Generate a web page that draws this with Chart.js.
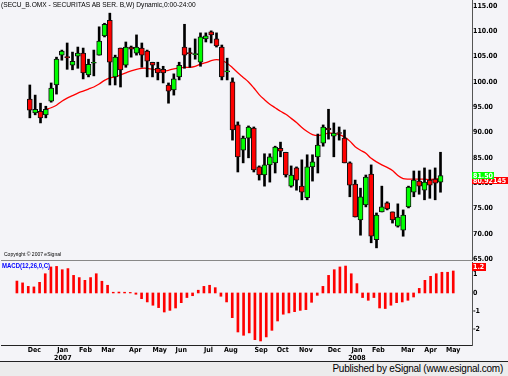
<!DOCTYPE html>
<html>
<head>
<meta charset="utf-8">
<script src="https://cdn.jsdelivr.net/npm/chart.js@4.4.1/dist/chart.umd.min.js"></script>
<style>
  body { margin: 0; background: #fff; }
  #wrap { position: relative; width: 508px; height: 376px; background: #F4F4F8; overflow: hidden;
          font-family: 'Liberation Sans', Arial, sans-serif; }
  canvas { position: absolute; left: 0; }
  #priceCanvas { top: 0; }
  #macdCanvas { top: 261px; }
  .lbl { position: absolute; white-space: nowrap; transform-origin: 0 50%; }
  #title { left: 1px; top: 0px; font-size: 8px; line-height: 10px; color: #000; transform: scaleX(0.83); }
  #copy { left: 4px; top: 251px; font-size: 5px; line-height: 6px; color: #000; }
  #macdLbl { left: 2px; top: 261px; font-size: 8px; line-height: 9px; font-weight: bold; color: #0000FF; transform: scaleX(0.75); }
  #footer { position: absolute; left: 0; top: 361px; width: 508px; height: 15px; background: #ECECEC;
            border-top: 1px solid #222; box-sizing: border-box; }
  #footer span { position: absolute; right: 5px; top: 0px; font-size: 10px; line-height: 13px; letter-spacing: -0.25px; color: #000; }
</style>
</head>
<body>
<div id="wrap">
  <canvas id="priceCanvas" width="508" height="272"></canvas>
  <canvas id="macdCanvas" width="508" height="101"></canvas>
  <div id="title" class="lbl">(SECU_B.OMX - SECURITAS AB SER. B,W) Dynamic,0:00-24:00</div>
  <div id="copy" class="lbl">Copyright © 2007 eSignal</div>
  <div id="macdLbl" class="lbl">MACD(12,26,0,C)</div>
  <div id="footer"><span>Published by eSignal (www.esignal.com)</span></div>
</div>
<script>
// weekly bars, Nov 2006 - May 2008
const opens  = [96.6, 93.9, 94.2, 93.5, 96.2, 99.4, 105.3, 105.0, 103.3, 105.1,
                105.7, 101.4, 103.7, 105.3, 109.1, 112.2, 101.0, 106.7, 103.3, 106.9,
                105.7, 106.7, 106.1, 103.9, 102.7, 102.5, 99.4, 98.4, 101.0, 106.9,
                105.8, 105.4, 103.9, 108.5, 109.9, 108.5, 106.9, 102.0, 100.0, 91.5,
                86.5, 88.9, 90.9, 83.2, 81.6, 83.6, 84.0, 86.9, 86.1, 79.4,
                83.0, 79.4, 77.1, 83.2, 85.2, 87.9, 90.9, 89.3, 90.0, 88.9,
                84.0, 79.8, 72.7, 75.7, 81.8, 68.8, 74.3, 76.1, 74.3, 71.5,
                70.7, 75.3, 78.2, 80.4, 78.6, 80.6, 80.8, 80.2];
const highs  = [99.4, 97.4, 95.8, 95.2, 99.8, 104.9, 106.3, 107.7, 105.9, 106.9,
                106.7, 104.5, 106.3, 110.9, 111.6, 113.6, 105.3, 106.7, 107.9, 107.1,
                109.3, 107.7, 106.3, 103.9, 103.9, 103.1, 99.8, 101.6, 103.9, 111.4,
                106.7, 108.5, 109.7, 109.7, 110.1, 109.7, 107.3, 104.7, 100.8, 92.1,
                89.3, 91.3, 91.1, 83.4, 85.8, 85.8, 87.3, 88.1, 86.1, 83.4,
                83.2, 84.6, 85.6, 85.6, 89.7, 91.5, 94.6, 91.9, 91.1, 90.5,
                84.2, 80.6, 79.0, 81.6, 83.6, 74.1, 79.4, 76.3, 74.3, 75.9,
                74.7, 79.4, 82.4, 82.4, 83.0, 82.6, 83.0, 86.1];
const lows   = [92.9, 93.5, 91.9, 92.9, 96.0, 97.6, 104.3, 102.5, 102.4, 102.7,
                100.6, 101.0, 101.2, 105.3, 108.9, 99.4, 99.4, 99.0, 102.9, 104.9,
                105.3, 102.9, 101.0, 101.0, 100.4, 99.8, 95.8, 97.4, 100.4, 102.7,
                102.9, 104.5, 103.1, 107.9, 107.7, 106.9, 100.4, 100.4, 88.5, 82.2,
                84.0, 85.0, 82.2, 80.6, 79.4, 80.2, 82.0, 85.2, 81.2, 79.2,
                78.6, 76.7, 76.7, 80.4, 82.0, 87.3, 88.7, 85.2, 88.5, 84.0,
                77.3, 73.3, 69.7, 75.3, 68.2, 67.2, 74.3, 74.7, 72.1, 71.3,
                69.5, 75.1, 77.3, 77.8, 76.7, 77.0, 76.7, 78.2];
const closes = [94.4, 94.6, 92.9, 94.6, 98.8, 104.5, 106.1, 104.8, 104.1, 105.7,
                101.8, 103.5, 103.9, 108.1, 111.4, 103.9, 104.9, 102.4, 106.9, 106.5,
                106.9, 105.3, 104.1, 103.3, 101.8, 101.8, 98.2, 100.6, 103.3, 105.3,
                105.6, 105.6, 108.9, 109.1, 109.3, 107.1, 101.0, 102.2, 90.5, 85.2,
                88.9, 91.1, 82.6, 81.6, 83.6, 85.2, 87.1, 86.3, 81.6, 81.6,
                80.6, 78.2, 83.2, 84.2, 87.5, 91.1, 90.5, 89.9, 89.8, 84.0,
                79.6, 73.3, 77.3, 81.2, 69.5, 73.7, 75.3, 74.9, 72.7, 73.3,
                73.7, 79.2, 80.6, 79.4, 80.2, 79.6, 80.0, 81.5];
const movAvg = [null, null, null, 94.6, 94.9, 95.4, 96.2, 96.8, 97.3, 97.8,
                98.2, 98.6, 99.0, 99.6, 100.3, 100.8, 101.0, 101.4, 101.8, 102.2,
                102.5, 102.7, 102.7, 102.5, 102.4, 102.2, 102.3, 102.6, 102.8, 102.9,
                102.9, 103.1, 103.5, 103.8, 104.2, 104.4, 104.2, 103.7, 102.8, 101.8,
                100.9, 100.0, 98.8, 97.5, 96.5, 95.6, 94.9, 94.2, 93.6, 92.8,
                92.0, 91.0, 90.2, 89.6, 89.4, 89.6, 89.9, 89.8, 89.6, 89.1,
                88.3, 87.2, 86.5, 85.9, 84.9, 84.2, 83.6, 83.1, 82.5, 81.5,
                80.9, 80.8, 80.8, 80.8, 80.8, 80.7, 80.8, 80.92145];
const macd   = [0.65, 0.55, 0.36, 0.33, 0.58, 1.05, 1.42, 1.45, 1.27, 1.33,
                0.96, 0.84, 0.69, 0.84, 1.05, 0.64, 0.42, 0.04, 0.05, 0.04,
                0.03, -0.07, -0.31, -0.49, -0.67, -0.80, -1.04, -0.95, -0.82, -0.53,
                -0.25, -0.15, 0.15, 0.36, 0.42, 0.29, -0.18, -0.49, -1.35, -2.13,
                -2.31, -2.18, -2.55, -2.62, -2.40, -2.04, -1.53, -1.16, -1.09, -1.02,
                -0.95, -0.91, -0.51, -0.13, 0.36, 0.96, 1.27, 1.42, 1.47, 1.05,
                0.51, -0.25, -0.40, -0.25, -0.82, -0.85, -0.67, -0.53, -0.49, -0.40,
                -0.22, 0.25, 0.69, 0.91, 1.05, 1.13, 1.13, 1.20];

const monthLabels = ['Dec', ['Jan', '2007'], 'Feb', 'Mar', 'Apr', 'May', 'Jun', 'Jul', 'Aug',
                     'Sep', 'Oct', 'Nov', 'Dec', ['Jan', '2008'], 'Feb', 'Mar', 'Apr', 'May'];
const monthPos    = [3.1, 8.1, 12.1, 16.1, 20.9, 25.2, 29.0, 33.8, 37.75,
                     43.1, 46.9, 51.0, 56.0, 60.0, 63.8, 69.0, 73.0, 77.0];
const priceTicks  = [65, 70, 75, 80, 85, 90, 95, 100, 105, 110, 115];
const macdTicks   = [-2, -1, 0, 1];

const fontStack = "'Liberation Sans Narrow', 'DejaVu Sans Condensed', 'Liberation Sans', Arial, sans-serif";
const axisFont = { family: fontStack, size: 7, weight: 'bold' };
const upColor = '#00FF00';
const downColor = '#FF0000';

const wickData = lows.map((l, i) => ({ x: i, y: [l, highs[i]] }));
const bodyData = opens.map((o, i) => ({ x: i, y: [o, closes[i]] }));
const maData = movAvg.map((v, i) => ({ x: i, y: v }));
const macdData = macd.map((v, i) => ({ x: i, y: v }));

// fixed width for the right axis, and no label padding pushing the plot in
function fixY(scale) {
  scale.width = 36;
  scale.paddingTop = 0;
  scale.paddingBottom = 0;
}

function drawTag(ctx, x, yc, w, h, bg, text) {
  const top = Math.round(yc - h / 2);
  ctx.font = "bold 7px " + fontStack;
  const tw = Math.ceil(ctx.measureText(text).width) + 2;
  ctx.fillStyle = bg;
  ctx.fillRect(x, top, Math.max(w, tw), h);
  ctx.fillStyle = '#fff';
  ctx.textBaseline = 'middle';
  ctx.textAlign = 'left';
  ctx.fillText(text, x + 1, top + h / 2 + 0.5);
}

const priceTags = {
  id: 'priceTags',
  afterDraw(chart) {
    const { ctx, chartArea } = chart;
    const y = chart.scales.y;
    const last = closes.length - 1;
    const yClose = y.getPixelForValue(closes[last]);
    const yMa = Math.max(y.getPixelForValue(movAvg[last]), yClose + 5);
    ctx.save();
    drawTag(ctx, chartArea.right, yMa, 36, 7, downColor, movAvg[last].toFixed(5));
    drawTag(ctx, chartArea.right, yClose, 17, 7, upColor, closes[last].toFixed(2));
    ctx.restore();
  }
};

const macdTag = {
  id: 'macdTag',
  afterDraw(chart) {
    const { ctx, chartArea } = chart;
    const y = chart.scales.y;
    const v = macd[macd.length - 1];
    const yv = Math.max(y.getPixelForValue(v) - 3.5, chartArea.top + 4);
    ctx.save();
    drawTag(ctx, chartArea.right, yv, 10, 8, downColor, v.toFixed(1));
    ctx.restore();
  }
};

new Chart(document.getElementById('priceCanvas'), {
  type: 'bar',
  data: {
    datasets: [
      { type: 'line', data: maData, borderColor: '#FF0000', borderWidth: 1.3, pointRadius: 0,
        tension: 0.3, spanGaps: false, order: 3 },
      { data: wickData, backgroundColor: '#000', barThickness: 2, grouped: false, order: 2 },
      { data: bodyData, barThickness: 5, grouped: false, order: 1,
        borderColor: '#111', borderWidth: 1, borderSkipped: false,
        backgroundColor: c => (c.dataIndex !== undefined && closes[c.dataIndex] < opens[c.dataIndex]) ? downColor : upColor }
    ]
  },
  options: {
    responsive: false,
    animation: false,
    events: [],
    layout: { padding: { left: 1, top: 0, right: 0, bottom: 12 } },
    plugins: { legend: { display: false }, tooltip: { enabled: false } },
    scales: {
      x: {
        type: 'linear', min: -0.5, max: 78,
        grid: { display: false, drawTicks: false },
        border: { display: true, color: '#888' },
        ticks: { display: false },
        afterFit: s => { s.height = 0; s.paddingLeft = 0; s.paddingRight = 0; }
      },
      y: {
        position: 'right', min: 64.8, max: 116.2,
        grid: { display: false, drawTicks: false },
        border: { display: true, color: '#555' },
        afterBuildTicks: s => { s.ticks = priceTicks.map(v => ({ value: v })); },
        afterFit: fixY,
        ticks: { color: '#000', font: axisFont, padding: 1, callback: v => Number(v).toFixed(2) }
      }
    }
  },
  plugins: [priceTags]
});

new Chart(document.getElementById('macdCanvas'), {
  type: 'bar',
  data: {
    datasets: [
      { data: macdData, backgroundColor: '#FF0000', barThickness: 2 }
    ]
  },
  options: {
    responsive: false,
    animation: false,
    events: [],
    layout: { padding: { left: 1, top: 1, right: 0, bottom: 0 } },
    plugins: { legend: { display: false }, tooltip: { enabled: false } },
    scales: {
      x: {
        type: 'linear', min: -0.5, max: 78,
        grid: { display: false, drawTicks: false },
        border: { display: true, color: '#222' },
        afterBuildTicks: s => { s.ticks = monthPos.map(v => ({ value: v })); },
        afterFit: s => { s.height = 17; s.paddingLeft = 0; s.paddingRight = 0; },
        ticks: { color: '#000', font: axisFont, padding: 1, autoSkip: false, maxRotation: 0,
                 callback: (v, i) => monthLabels[i] }
      },
      y: {
        position: 'right', min: -2.84, max: 1.69,
        grid: { display: false, drawTicks: false },
        border: { display: true, color: '#555' },
        afterBuildTicks: s => { s.ticks = macdTicks.map(v => ({ value: v })); },
        afterFit: fixY,
        ticks: { color: '#000', font: axisFont, padding: 1 }
      }
    }
  },
  plugins: [macdTag]
});
</script>
</body>
</html>
